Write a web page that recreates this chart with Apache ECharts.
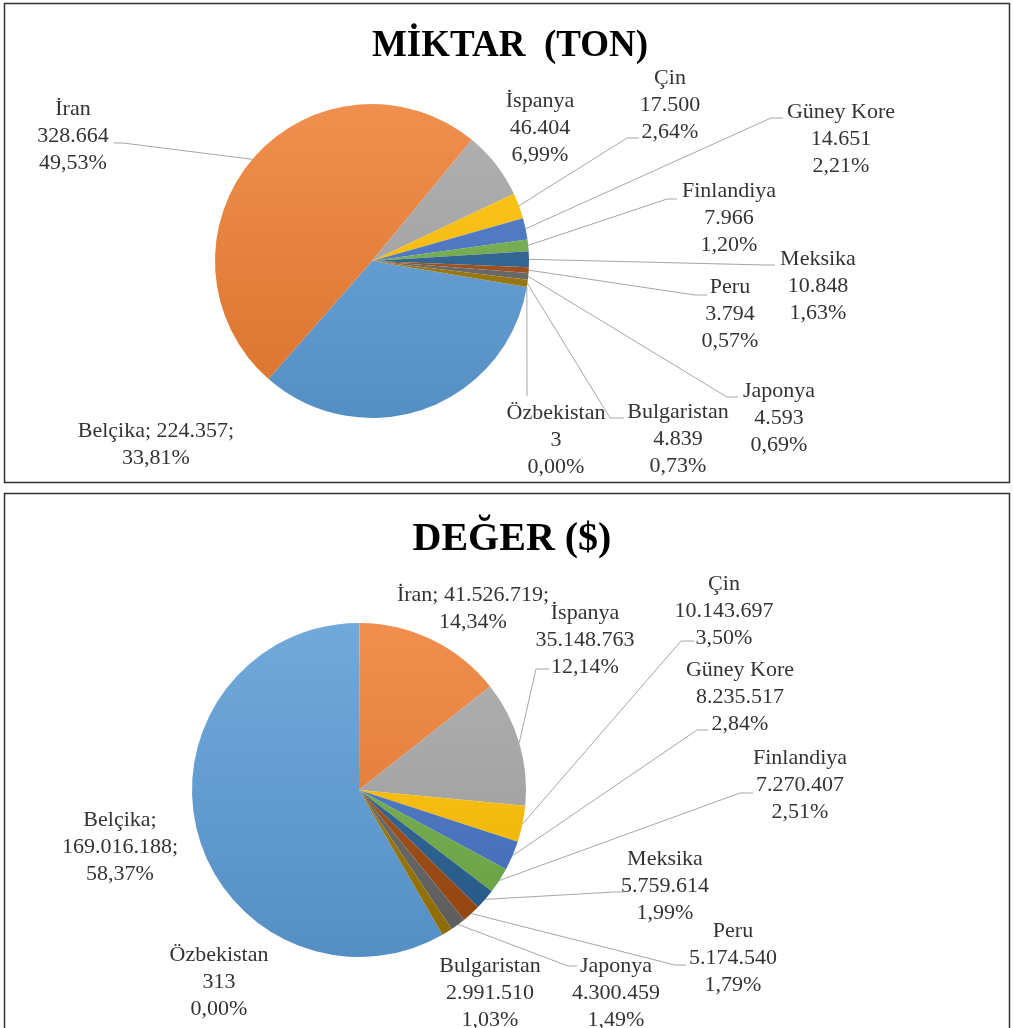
<!DOCTYPE html>
<html>
<head>
<meta charset="utf-8">
<script src="https://cdn.jsdelivr.net/npm/echarts@6/dist/echarts.min.js"></script>
<style>
  html, body { margin: 0; padding: 0; background: #fff; }
  #chart { width: 1013px; height: 1028px; }
</style>
</head>
<body>
<div id="chart"></div>
<script>
// ---------- DATA ----------
const countries = ['Belçika', 'İran', 'İspanya', 'Çin', 'Güney Kore', 'Finlandiya', 'Meksika', 'Peru', 'Japonya', 'Bulgaristan', 'Özbekistan'];
const tonValues = [224357, 328664, 46404, 17500, 14651, 7966, 10848, 3794, 4593, 4839, 3];
const usdValues = [169016188, 41526719, 35148763, 10143697, 8235517, 7270407, 5759614, 5174540, 4300459, 2991510, 313];
const titleTon = 'MİKTAR  (TON)';
const titleUsd = 'DEĞER ($)';

// ---------- STYLE / LAYOUT ----------
const sliceColors = ['#5B9BD5', '#ED7D31', '#A5A5A5', '#FFC000', '#4472C4', '#70AD47', '#255E91', '#9E480E', '#636363', '#997300', '#264478'];
// label text templates: {n}=name {v}=value {p}=percent
const tonLabelTpl = ['{n}; {v};\n{p}', '{n}\n{v}\n{p}', '{n}\n{v}\n{p}', '{n}\n{v}\n{p}', '{n}\n{v}\n{p}', '{n}\n{v}\n{p}', '{n}\n{v}\n{p}', '{n}\n{v}\n{p}', '{n}\n{v}\n{p}', '{n}\n{v}\n{p}', '{n}\n{v}\n{p}'];
const usdLabelTpl = ['{n};\n{v};\n{p}', '{n}; {v};\n{p}', '{n}\n{v}\n{p}', '{n}\n{v}\n{p}', '{n}\n{v}\n{p}', '{n}\n{v}\n{p}', '{n}\n{v}\n{p}', '{n}\n{v}\n{p}', '{n}\n{v}\n{p}', '{n}\n{v}\n{p}', '{n}\n{v}\n{p}'];
// label block centres (px)
const tonLabelPos = [[156, 445], [73, 136], [540, 128], [670, 105], [841, 139], [729, 218], [818, 286], [730, 314], [779, 418], [678, 439], [556, 440]];
const usdLabelPos = [[120, 847], [473, 609], [585, 640], [724, 611], [740, 697], [800, 785], [665, 886], [733, 958], [616, 993], [490, 993], [219, 982]];
// leader line bend + end near label (null = no leader line)
const tonLines = [null, [123, 143, 114, 143], null, [627, 138, 639, 138], [771, 118, 783, 118], [667, 199, 677, 199], [765, 265, 775, 265], [695, 295, 707, 295], [727, 397, 738, 397], [610, 418, 624, 418], [527, 396, 527, 396]];
const usdLines = [null, null, [536, 669, 549, 669], [681, 641, 694, 641], [697, 730, 708, 730], [740, 793, 753, 793], [614, 892, 623, 892], [675, 965, 686, 965], [568, 966, 577, 966], null, null];

const tonPie = { cx: 372, cy: 261, r: 157, startAngle: -9.5 };
const usdPie = { cx: 359, cy: 790, r: 167, startAngle: -60 };

function fmtNum(v) { return String(v).replace(/\B(?=(\d{3})+(?!\d))/g, '.'); }
function fmtPct(p) { return p.toFixed(2).replace('.', ',') + '%'; }

function shade(hex, amt) {
  const n = parseInt(hex.slice(1), 16);
  let r = (n >> 16) & 255, g = (n >> 8) & 255, b = n & 255;
  const f = (c) => amt >= 0 ? Math.round(c + (255 - c) * amt) : Math.round(c * (1 + amt));
  return 'rgb(' + f(r) + ',' + f(g) + ',' + f(b) + ')';
}

function buildData(values, lines, pie) {
  return countries.map((n, i) => ({
    name: n,
    value: values[i],
    itemStyle: {
      color: {
        type: 'linear', global: true,
        x: pie.cx, y: pie.cy - pie.r, x2: pie.cx, y2: pie.cy + pie.r,
        colorStops: [
          { offset: 0, color: shade(sliceColors[i], 0.14) },
          { offset: 1, color: shade(sliceColors[i], -0.08) }
        ]
      }
    },
    labelLine: { show: lines[i] != null }
  }));
}

function makeLayout(pos, lines) {
  return function (params) {
    const i = params.dataIndex;
    const out = { x: pos[i][0], y: pos[i][1], align: 'center', verticalAlign: 'middle' };
    const ln = lines[i];
    if (ln && params.labelLinePoints && params.labelLinePoints.length) {
      const a = params.labelLinePoints[0];
      out.labelLinePoints = [[a[0], a[1]], [ln[0], ln[1]], [ln[2], ln[3]]];
    }
    return out;
  };
}

function makeFormatter(tpl) {
  return function (p) {
    return tpl[p.dataIndex]
      .replace('{n}', p.name)
      .replace('{v}', fmtNum(p.value))
      .replace('{p}', fmtPct(p.percent));
  };
}

function pieSeries(values, lines, pos, tpl, pie) {
  return {
    type: 'pie',
    center: [pie.cx, pie.cy],
    radius: pie.r,
    startAngle: pie.startAngle,
    clockwise: true,
    avoidLabelOverlap: false,
    silent: true,
    data: buildData(values, lines, pie),
    itemStyle: { borderWidth: 0 },
    label: {
      show: true,
      position: 'outside',
      formatter: makeFormatter(tpl),
      fontFamily: 'Liberation Serif',
      fontSize: 22,
      lineHeight: 27,
      color: '#333'
    },
    labelLine: {
      show: true, length: 10, length2: 10, smooth: false,
      lineStyle: { color: '#A6A6A6', width: 1 }
    },
    labelLayout: makeLayout(pos, lines)
  };
}

const chart = echarts.init(document.getElementById('chart'), null, { renderer: 'canvas' });
chart.setOption({
  animation: false,
  backgroundColor: '#fff',
  title: [
    { text: titleTon, left: 510, top: 46, textAlign: 'center', textVerticalAlign: 'middle', padding: 0,
      textStyle: { fontFamily: 'Liberation Serif', fontWeight: 'bold', fontSize: 37, color: '#000' } },
    { text: titleUsd, left: 512, top: 540, textAlign: 'center', textVerticalAlign: 'middle', padding: 0,
      textStyle: { fontFamily: 'Liberation Serif', fontWeight: 'bold', fontSize: 40, color: '#000' } }
  ],
  graphic: [
    { type: 'rect', silent: true, shape: { x: 4.5, y: 3.5, width: 1005, height: 479 },
      style: { fill: 'none', stroke: '#333', lineWidth: 1.5 } },
    { type: 'rect', silent: true, shape: { x: 4.5, y: 493.5, width: 1005, height: 560 },
      style: { fill: 'none', stroke: '#333', lineWidth: 1.5 } }
  ],
  series: [
    pieSeries(tonValues, tonLines, tonLabelPos, tonLabelTpl, tonPie),
    pieSeries(usdValues, usdLines, usdLabelPos, usdLabelTpl, usdPie)
  ]
});
</script>
</body>
</html>
